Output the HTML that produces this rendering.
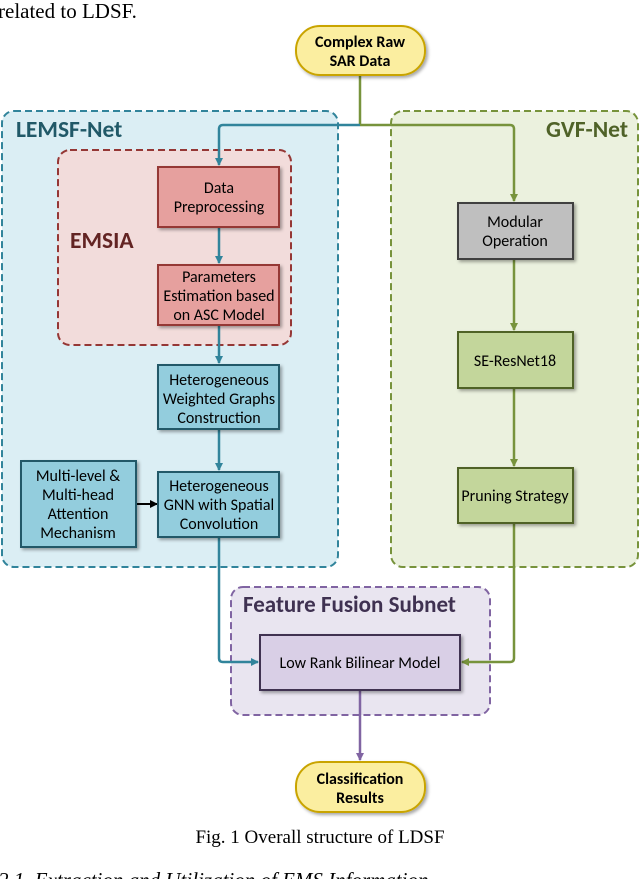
<!DOCTYPE html>
<html><head><meta charset="utf-8"><style>
html,body{margin:0;padding:0;background:#fff;}
body{width:640px;height:879px;overflow:hidden;position:relative;}
svg{position:absolute;left:0;top:0;}
.b{font-family:"Carlito","Liberation Sans",sans-serif;}
</style></head><body>
<svg width="640" height="879" viewBox="0 0 640 879" xmlns="http://www.w3.org/2000/svg">
<defs>
<filter id="sh" x="-10%" y="-10%" width="130%" height="130%"><feDropShadow dx="2" dy="2" stdDeviation="1.5" flood-color="#000" flood-opacity="0.35"/></filter>
<marker id="ab" markerWidth="8" markerHeight="8" refX="7" refY="4" orient="auto" markerUnits="userSpaceOnUse"><path d="M0,0 L8,4 L0,8 z" fill="#31849b"/></marker>
<marker id="ag" markerWidth="8" markerHeight="8" refX="7" refY="4" orient="auto" markerUnits="userSpaceOnUse"><path d="M0,0 L8,4 L0,8 z" fill="#77933c"/></marker>
<marker id="ap" markerWidth="8" markerHeight="8" refX="7" refY="4" orient="auto" markerUnits="userSpaceOnUse"><path d="M0,0 L8,4 L0,8 z" fill="#8064a2"/></marker>
<marker id="ak" markerWidth="8" markerHeight="8" refX="7" refY="4" orient="auto" markerUnits="userSpaceOnUse"><path d="M0,0 L8,4 L0,8 z" fill="#000"/></marker>
</defs>
<text x="-2" y="18" font-family="Liberation Serif" font-size="21">related to LDSF.</text>

<rect x="2" y="111" width="336" height="456" rx="12" fill="#dbeef4" stroke="#31849b" stroke-width="2" stroke-dasharray="7,4"/>
<rect x="391" y="111" width="247" height="456" rx="12" fill="#ebf1de" stroke="#77933c" stroke-width="2" stroke-dasharray="7,4"/>
<rect x="58" y="150" width="233" height="195" rx="12" fill="#f2dcdb" stroke="#953735" stroke-width="2" stroke-dasharray="7,4"/>
<rect x="231" y="587" width="259" height="128" rx="12" fill="#e9e5f0" stroke="#8064a2" stroke-width="2" stroke-dasharray="7,4"/>

<text class="b" x="16" y="137" font-size="23.5" font-weight="bold" fill="#215968">LEMSF-Net</text>
<text class="b" x="628" y="137" font-size="23.5" font-weight="bold" fill="#4f6228" text-anchor="end">GVF-Net</text>
<text class="b" x="70" y="248" font-size="23.5" font-weight="bold" fill="#632423">EMSIA</text>
<text class="b" x="243" y="612" font-size="23" font-weight="bold" fill="#3f3151">Feature Fusion Subnet</text>

<path d="M360,76 V125" stroke="#77933c" stroke-width="2.5" fill="none"/>
<path d="M360,125 H223 Q219,125 219,129 V165" stroke="#31849b" stroke-width="2.5" fill="none" marker-end="url(#ab)"/>
<path d="M360,125 H510 Q514,125 514,129 V201" stroke="#77933c" stroke-width="2.5" fill="none" marker-end="url(#ag)"/>
<path d="M219,227 V263" stroke="#31849b" stroke-width="2.5" marker-end="url(#ab)"/>
<path d="M219,325 V363" stroke="#31849b" stroke-width="2.5" marker-end="url(#ab)"/>
<path d="M219,429 V470" stroke="#31849b" stroke-width="2.5" marker-end="url(#ab)"/>
<path d="M137,504 H157" stroke="#000" stroke-width="2" marker-end="url(#ak)"/>
<path d="M219,537 V658 Q219,662 223,662 H258" stroke="#31849b" stroke-width="2.5" fill="none" marker-end="url(#ab)"/>
<path d="M514,259 V330" stroke="#77933c" stroke-width="2.5" marker-end="url(#ag)"/>
<path d="M514,388 V466" stroke="#77933c" stroke-width="2.5" marker-end="url(#ag)"/>
<path d="M514,523 V658 Q514,662 510,662 H462" stroke="#77933c" stroke-width="2.5" fill="none" marker-end="url(#ag)"/>
<path d="M360,690 V760" stroke="#8064a2" stroke-width="2.5" marker-end="url(#ap)"/>

<rect x="296" y="26" width="129" height="49" rx="24" fill="#fbeea0" stroke="#c9a400" stroke-width="2" filter="url(#sh)"/>
<text class="b" x="360" y="47" font-size="16" font-weight="bold" text-anchor="middle">Complex Raw</text>
<text class="b" x="360" y="66" font-size="16" font-weight="bold" text-anchor="middle">SAR Data</text>
<rect x="296" y="762" width="129" height="50" rx="24" fill="#fbeea0" stroke="#c9a400" stroke-width="2" filter="url(#sh)"/>
<text class="b" x="360" y="784" font-size="16" font-weight="bold" text-anchor="middle">Classification</text>
<text class="b" x="360" y="803" font-size="16" font-weight="bold" text-anchor="middle">Results</text>

<g class="b" font-size="16" text-anchor="middle">
<rect x="158" y="167" width="121" height="60" fill="#e6a09e" stroke="#953735" stroke-width="2" filter="url(#sh)"/>
<text x="219" y="193">Data</text><text x="219" y="212">Preprocessing</text>
<rect x="158" y="265" width="121" height="60" fill="#e6a09e" stroke="#953735" stroke-width="2" filter="url(#sh)"/>
<text x="219" y="282">Parameters</text><text x="219" y="301">Estimation based</text><text x="219" y="320">on ASC Model</text>
<rect x="158" y="365" width="121" height="64" fill="#93cddd" stroke="#215968" stroke-width="2" filter="url(#sh)"/>
<text x="219" y="385">Heterogeneous</text><text x="219" y="404">Weighted Graphs</text><text x="219" y="423">Construction</text>
<rect x="158" y="472" width="121" height="65" fill="#93cddd" stroke="#215968" stroke-width="2" filter="url(#sh)"/>
<text x="219" y="491">Heterogeneous</text><text x="219" y="510">GNN with Spatial</text><text x="219" y="529">Convolution</text>
<rect x="21" y="461" width="115" height="86" fill="#93cddd" stroke="#215968" stroke-width="2" filter="url(#sh)"/>
<text x="78" y="481">Multi-level &amp;</text><text x="78" y="500">Multi-head</text><text x="78" y="519">Attention</text><text x="78" y="538">Mechanism</text>
<rect x="458" y="203" width="115" height="56" fill="#bfbfbf" stroke="#404040" stroke-width="2" filter="url(#sh)"/>
<text x="515" y="227">Modular</text><text x="515" y="246">Operation</text>
<rect x="458" y="332" width="115" height="56" fill="#c3d69b" stroke="#4f6228" stroke-width="2" filter="url(#sh)"/>
<text x="515" y="366">SE-ResNet18</text>
<rect x="458" y="468" width="115" height="55" fill="#c3d69b" stroke="#4f6228" stroke-width="2" filter="url(#sh)"/>
<text x="515" y="501">Pruning Strategy</text>
<rect x="260" y="635" width="200" height="55" fill="#d9cfe6" stroke="#3f3151" stroke-width="2" filter="url(#sh)"/>
<text x="360" y="668">Low Rank Bilinear Model</text>
</g>

<text x="320" y="843" font-family="Liberation Serif" font-size="19" text-anchor="middle">Fig. 1 Overall structure of LDSF</text>
<text x="-2" y="887" font-family="Liberation Serif" font-size="21" font-style="italic">2.1. Extraction and Utilization of EMS Information</text>
</svg>
</body></html>
